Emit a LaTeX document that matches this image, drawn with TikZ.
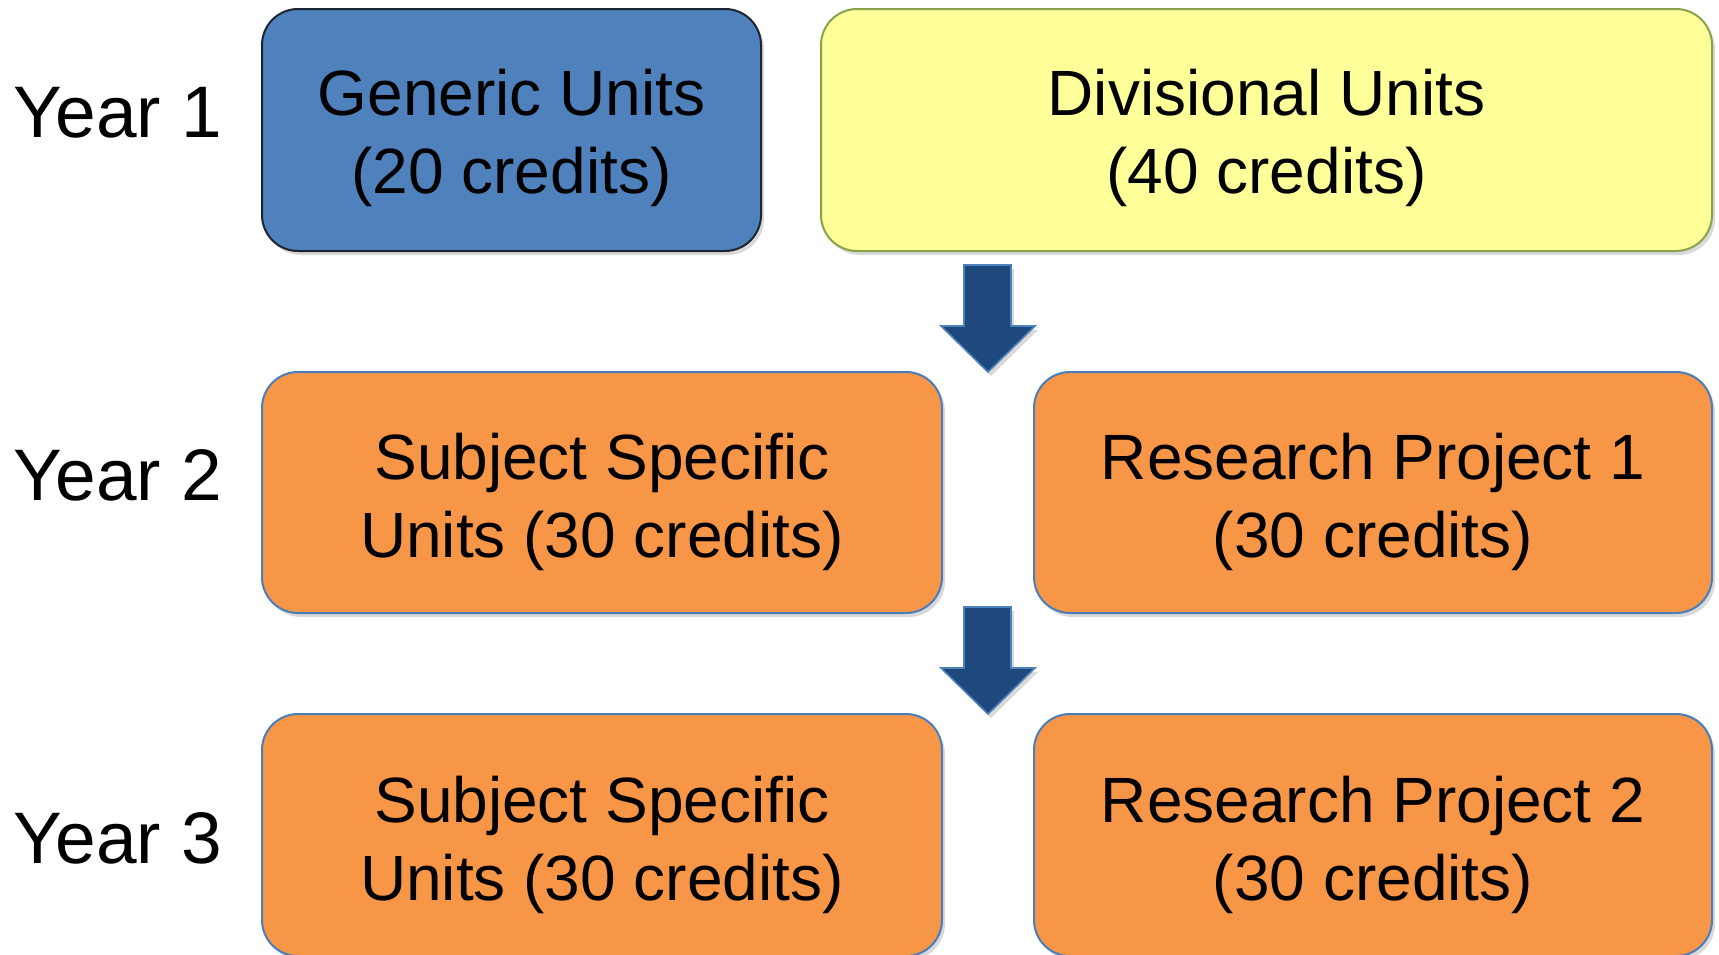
\documentclass[tikz,border=0pt]{standalone}
\usepackage{fontspec}
\setmainfont{Liberation Sans}
\usetikzlibrary{shadows}
\definecolor{genfill}{HTML}{4F81BD}
\definecolor{genborder}{HTML}{1C2633}
\definecolor{divfill}{HTML}{FFFF99}
\definecolor{divborder}{HTML}{86A34A}
\definecolor{orfill}{HTML}{F79646}
\definecolor{orborder}{HTML}{4A7EBB}
\definecolor{arfill}{HTML}{1F497D}
\definecolor{arborder}{HTML}{4F81BD}
\tikzset{
  unitbox/.style={rounded corners=18pt, line width=1pt,
    drop shadow={shadow xshift=1.5pt, shadow yshift=-2pt, opacity=0.3}},
  genbox/.style={unitbox, fill=genfill, draw=genborder},
  divbox/.style={unitbox, fill=divfill, draw=divborder},
  orbox/.style={unitbox, fill=orfill, draw=orborder},
  unittext/.style={align=center, text=black, font=\fontsize{32}{39}\selectfont},
  yearlabel/.style={anchor=base west, inner sep=0pt, font=\fontsize{36.5}{42}\selectfont},
  blockarrow/.style={fill=arfill, draw=arborder, line width=0.8pt,
    drop shadow={shadow xshift=1.5pt, shadow yshift=-2pt, opacity=0.3}}
}
\begin{document}
\begin{tikzpicture}[x=0.5pt, y=-0.5pt]
\useasboundingbox (0,0) rectangle (1719,954);
\begin{scope}
\clip (0,0) rectangle (1719,954);
% row 1
\draw[genbox] (262,9) rectangle (761,251);
\node[unittext] (gen) at (511.5,138) {Generic Units\\(20 credits)};
\draw[divbox] (821,9) rectangle (1712,251);
\node[unittext] (div) at (1266.5,138) {Divisional Units\\(40 credits)};
% row 2
\draw[orbox] (262,372) rectangle (942,613);
\node[unittext] (ss1) at (602,502) {Subject Specific\\Units (30 credits)};
\draw[orbox] (1034,372) rectangle (1712,613);
\node[unittext] (rp1) at (1373,502) {Research Project 1\\(30 credits)};
% row 3
\draw[orbox] (262,714) rectangle (942,956);
\node[unittext] (ss2) at (602,845) {Subject Specific\\Units (30 credits)};
\draw[orbox] (1034,714) rectangle (1712,956);
\node[unittext] (rp2) at (1373,845) {Research Project 2\\(30 credits)};
% arrows
\draw[blockarrow] (964,265) -- (1011,265) -- (1011,326) -- (1035,326) -- (988,372) -- (941,326) -- (964,326) -- cycle;
\draw[blockarrow] (964,607) -- (1011,607) -- (1011,668) -- (1035,668) -- (988,714) -- (941,668) -- (964,668) -- cycle;
% year labels
\node[yearlabel] (y1) at (13,137) {Year 1};
\node[yearlabel] (y2) at (13,500) {Year 2};
\node[yearlabel] (y3) at (13,863) {Year 3};
\end{scope}
\end{tikzpicture}
\end{document}
